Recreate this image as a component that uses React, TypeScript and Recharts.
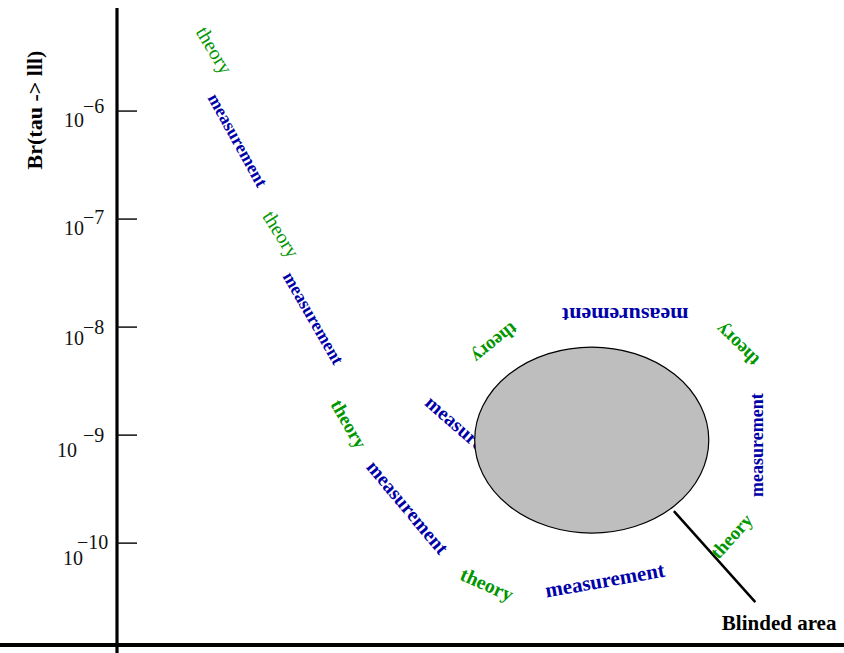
import { ScatterChart, Scatter, XAxis, YAxis, ReferenceArea, ReferenceLine } from 'recharts'

// words laid along the curve, in reading order
const pathWords = [
  'theory', 'measurement', 'theory', 'measurement', 'theory', 'measurement', 'theory',
  'measurement', 'theory', 'measurement', 'theory', 'measurement', 'theory', 'measurement',
]
const pathX = [13.4, 16.6, 22.6, 27.0, 31.9, 40.0, 50.9, 67.1, 84.5, 88.0, 85.3, 69.9, 52.0, 48.8]
const pathY = [
  3.67e-6, 5.38e-7, 7.26e-8, 1.21e-8, 1.27e-9, 2.15e-10, 4.17e-11,
  4.54e-11, 1.16e-10, 8.07e-10, 6.81e-9, 1.29e-8, 7.11e-9, 9.6e-10,
]

// blinded region (ellipse bounding box) and its pointer
const blindX = [49.2, 81.4]
const blindY = [1.24e-10, 6.53e-9]
const pointerX = [76.6, 87.8]
const pointerY = [1.98e-10, 2.84e-11]
const blindLabel = [{ x: 83.2, y: 1.56e-11, text: 'Blinded area' }]

const yTicks = [1e-10, 1e-9, 1e-8, 1e-7, 1e-6]
const yDomain = [1.14e-11, 9.0e-6]
const yAxisBottom = 9.57e-12

// text orientation / look per word (kept apart from the values)
const wordAngle = [59, 61, 58, 60, 60, 50, 24, -10, -48, -90, -136, 180, 141, 41]
const wordSize = [20, 18, 20, 18, 19, 20, 20, 21, 19, 18, 19, 22, 19, 20]
const wordBold = [false, true, false, true, true, true, true, true, true, true, true, true, true, true]

const COLORS = { theory: '#009600', measurement: '#0000a8' }
const SERIF = '"Liberation Serif", "DejaVu Serif", serif'

const words = pathWords.map((text, i) => ({
  x: pathX[i], y: pathY[i], text,
  angle: wordAngle[i], size: wordSize[i], bold: wordBold[i],
}))

// per-exponent label quirks (ROOT puts 10^-9 / 10^-10 slightly off)
const TICK_POS: Record<number, { base: number; baseY: number; sup: number; supY: number }> = {
  [-6]: { base: -33, baseY: 16, sup: -34, supY: 2 },
  [-7]: { base: -33, baseY: 16, sup: -34, supY: 5 },
  [-8]: { base: -33, baseY: 18, sup: -34, supY: 7 },
  [-9]: { base: -40, baseY: 22, sup: -34, supY: 7 },
  [-10]: { base: -34, baseY: 22, sup: -40, supY: 6 },
}

function YTick({ x, y, payload }: any) {
  const exp = Math.round(Math.log10(payload.value))
  const p = TICK_POS[exp] || TICK_POS[-6]
  return (
    <g>
      <line x1={x} x2={x + 20} y1={y} y2={y} stroke="#111" strokeWidth={1.5} />
      <text x={x + p.base} y={y + p.baseY} textAnchor="end" fontSize={20} fontFamily={SERIF} fill="#111">10</text>
      <text x={x + p.sup} y={y + p.supY} textAnchor="start" fontSize={20} fontFamily={SERIF} fill="#111">{'\u2212' + -exp}</text>
    </g>
  )
}

function WordShape(props: any) {
  const { cx, cy, payload } = props
  return (
    <text
      x={cx} y={cy}
      transform={`rotate(${payload.angle} ${cx} ${cy})`}
      textAnchor="middle" dominantBaseline="central"
      fontSize={payload.size} fontWeight={payload.bold ? 700 : 400}
      fontFamily={SERIF}
      fill={payload.text === 'theory' ? COLORS.theory : COLORS.measurement}
    >
      {payload.text}
    </text>
  )
}

function BlindLabelShape({ cx, cy, payload }: any) {
  return (
    <text x={cx} y={cy} fontSize={21} fontWeight={700} fontFamily={SERIF} fill="#000">{payload.text}</text>
  )
}

function EllipseShape({ x, y, width, height }: any) {
  return (
    <ellipse
      cx={x + width / 2} cy={y + height / 2} rx={Math.abs(width) / 2} ry={Math.abs(height) / 2}
      fill="#bebebe" stroke="#000" strokeWidth={1.2}
    />
  )
}

export default function App() {
  return (
    <div style={{ position: 'absolute', left: 0, top: 0, width: 844, height: 653, background: '#fff' }}>
      <ScatterChart width={844} height={653} margin={{ top: 8, right: 0, bottom: 8, left: 0 }}>
        <XAxis type="number" dataKey="x" domain={[0, 100]} hide allowDataOverflow />
        <YAxis
          type="number" dataKey="y" scale="log" domain={yDomain} allowDataOverflow
          ticks={yTicks} tick={<YTick />} tickLine={false} axisLine={false}
          tickSize={0} tickMargin={0} width={117} interval={0}
          label={{
            content: () => (
              <text
                x={42} y={110} transform="rotate(-90 42 110)" textAnchor="middle"
                fontSize={22} fontWeight={700} fontFamily={SERIF} fill="#000"
              >
                Br(tau -&gt; lll)
              </text>
            ),
          }}
        />
        <Scatter data={words} shape={<WordShape />} isAnimationActive={false} />
        <ReferenceArea
          x1={blindX[0]} x2={blindX[1]} y1={blindY[0]} y2={blindY[1]}
          shape={<EllipseShape />} ifOverflow="visible" zIndex={700}
        />
        <ReferenceLine
          segment={[{ x: pointerX[0], y: pointerY[0] }, { x: pointerX[1], y: pointerY[1] }]}
          stroke="#000" strokeWidth={2.5} ifOverflow="visible"
        />
        <Scatter data={blindLabel} shape={<BlindLabelShape />} isAnimationActive={false} />
        {/* axis frame: y line runs past the x line, x line runs to the left edge */}
        <ReferenceLine
          segment={[{ x: 0, y: yDomain[1] }, { x: 0, y: yAxisBottom }]}
          stroke="#000" strokeWidth={3.2} ifOverflow="visible"
        />
        <ReferenceLine
          segment={[{ x: -16.1, y: yDomain[0] }, { x: 100, y: yDomain[0] }]}
          stroke="#000" strokeWidth={4} ifOverflow="visible"
        />
      </ScatterChart>
    </div>
  )
}
